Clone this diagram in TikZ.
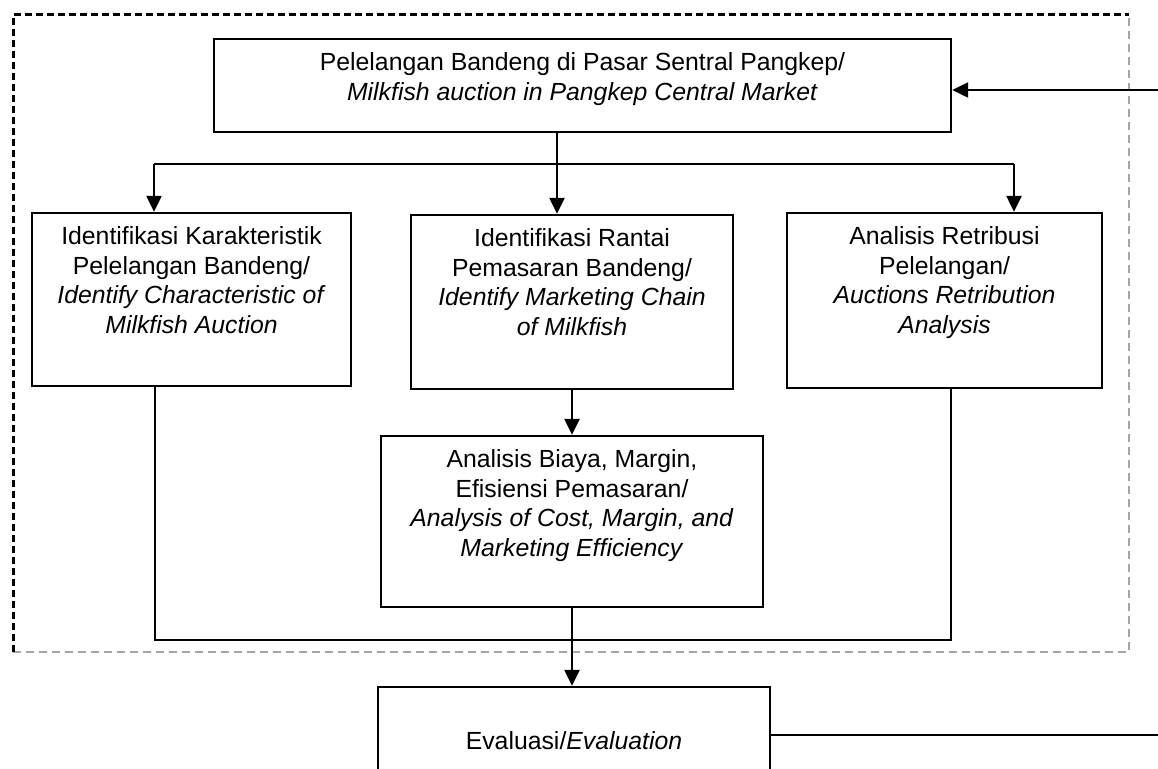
\documentclass[tikz,border=0pt]{standalone}
\usepackage{fontspec}
\setmainfont{Liberation Sans}
\usetikzlibrary{positioning,arrows.meta}

\begin{document}
\begin{tikzpicture}[
      x=1pt,y=-1pt,
      >={Triangle[length=16pt,width=15pt]},
      every path/.style={line width=2.4pt},
      box/.style={draw,inner sep=0pt},
      words/.style={inner sep=0pt,align=center,font=\fontsize{24.8}{29.5}\selectfont},
      frameDark/.style={line width=3pt,dash pattern=on 7pt off 4pt},
      frameLight/.style={line width=1.4pt,gray!70,dash pattern=on 8pt off 5pt},
      ]
      \useasboundingbox (0,0) rectangle (1158,768);
      % dashed frame
      \draw[frameLight] (13,652) -- (1129,652) -- (1129,15);
      \draw[frameDark]  (13,652) -- (13,15) -- (1129,15);
      % boxes
      \node[box,minimum width=737,minimum height=93]  (auctionTop)   at (582.5,85.5) {};
      \node[box,minimum width=319,minimum height=173] (auctionChar)  at (191.5,299.5) {};
      \node[box,minimum width=322,minimum height=174] (auctionChain) at (572,302) {};
      \node[box,minimum width=315,minimum height=175] (auctionRetr)  at (944.5,300.5) {};
      \node[box,minimum width=382,minimum height=171] (auctionCost)  at (572,521.5) {};
      \node[box,minimum width=392,minimum height=108,words] (auctionEval) at (574,741)
        {Evaluasi/\textit{Evaluation}};
      % texts
      \node[words,below=14pt of auctionTop.north] (auctionTopText)
        {Pelelangan Bandeng di Pasar Sentral Pangkep/\\
         \textit{Milkfish auction in Pangkep Central Market}};
      \node[words,below=14pt of auctionChar.north] (auctionCharText)
        {Identifikasi Karakteristik\\Pelelangan Bandeng/\\
         \textit{Identify Characteristic of}\\\textit{Milkfish Auction}};
      \node[words,below=14pt of auctionChain.north] (auctionChainText)
        {Identifikasi Rantai\\Pemasaran Bandeng/\\
         \textit{Identify Marketing Chain}\\\textit{of Milkfish}};
      \node[words,below=14pt of auctionRetr.north] (auctionRetrText)
        {Analisis Retribusi\\Pelelangan/\\
         \textit{Auctions Retribution}\\\textit{Analysis}};
      \node[words,below=14pt of auctionCost.north] (auctionCostText)
        {Analisis Biaya, Margin,\\Efisiensi Pemasaran/\\
         \textit{Analysis of Cost, Margin, and}\\\textit{Marketing Efficiency}};
      % branch and join points
      \coordinate (splitL) at (154,164);
      \coordinate (splitM) at (557,164);
      \coordinate (splitR) at (1014,164);
      \coordinate (joinL)  at (155,640);
      \coordinate (joinR)  at (951,640);
      \coordinate (backIn)  at (1158,90);
      \coordinate (backOut) at (1158,735);
      % connectors
      \draw (auctionTop.south -| splitM) -- (splitM);
      \draw (splitL) -- (splitR);
      \draw[->] (splitL) -- (splitL |- auctionChar.north);
      \draw[->] (splitM) -- (splitM |- auctionChain.north);
      \draw[->] (splitR) -- (splitR |- auctionRetr.north);
      \draw[->] (auctionChain) -- (auctionCost);
      \draw (auctionChar.south -| joinL) -- (joinL) -- (joinR) -- (auctionRetr.south -| joinR);
      \draw[->] (auctionCost.south) -- (auctionCost.south |- auctionEval.north);
      \draw[->] (backIn) -- (backIn -| auctionTop.east);
      \draw (auctionEval.east |- backOut) -- (backOut);
\end{tikzpicture}
\end{document}
